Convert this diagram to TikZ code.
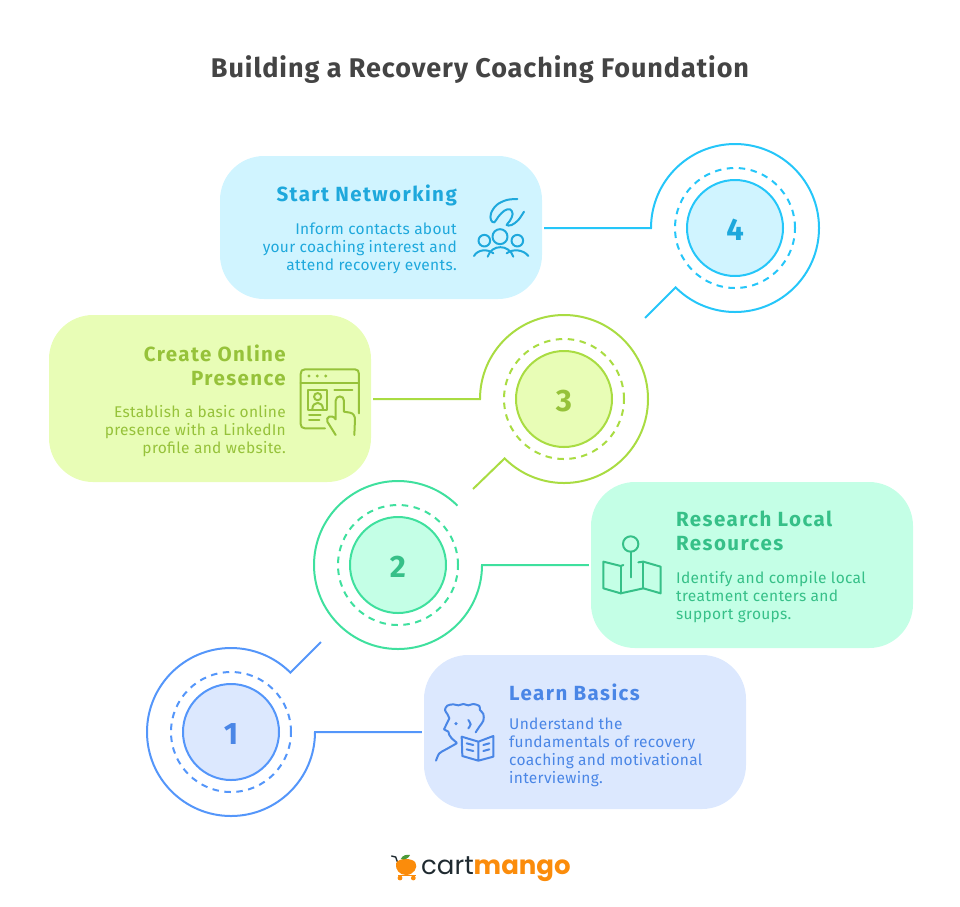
\documentclass[tikz,border=0pt]{standalone}
\usepackage{fontspec}
\usepackage{xcolor}
\setmainfont{Fira Sans}
\newfontfamily\logofont{Poppins}
\newfontfamily\titlefont[LetterSpace=3.5]{Fira Sans}
\newfontfamily\headfont[LetterSpace=7]{Fira Sans}
\newfontfamily\bodyfont[LetterSpace=2]{Fira Sans}
\usetikzlibrary{positioning}
\definecolor{titlegray}{HTML}{444444}
\definecolor{learnfill}{HTML}{DCE8FE}
\definecolor{learnline}{HTML}{5496FA}
\definecolor{learntext}{HTML}{4A86E6}
\definecolor{researchfill}{HTML}{C4FFE6}
\definecolor{researchline}{HTML}{3FE09E}
\definecolor{researchtext}{HTML}{36C088}
\definecolor{createfill}{HTML}{E8FDB6}
\definecolor{createline}{HTML}{A9DC42}
\definecolor{createtext}{HTML}{96C23A}
\definecolor{startfill}{HTML}{D0F4FF}
\definecolor{startline}{HTML}{25C6F9}
\definecolor{starttext}{HTML}{1EA8DC}
\definecolor{mangoorange}{HTML}{FB8C0B}
\definecolor{cartdark}{HTML}{1F2A30}
\definecolor{leafgreen}{HTML}{4C9A3A}

\begin{document}
\begin{tikzpicture}[
    x=1pt, y=-1pt,
    box/.style={rectangle, rounded corners=44pt, fill=#1, minimum width=322pt},
    hub/.style={circle, draw=#1, line width=2pt, minimum size=96pt, inner sep=0pt},
    ring/.style={circle, draw=#1, line width=2pt, dash pattern=on 6.5pt off 5.5pt, minimum size=120pt, inner sep=0pt},
    link/.style={draw=#1, line width=2pt, line join=miter},
    numeral/.style={font=\fontsize{31}{31}\selectfont\bfseries, text=#1},
    heading/.style={font=\fontsize{20.5}{24}\headfont\bfseries, text=#1, inner sep=0pt},
    body/.style={font=\fontsize{15.5}{18}\bodyfont, text=#1, inner sep=0pt},
    icon/.style={draw=#1, line width=2pt, line cap=round, line join=round}
]
\useasboundingbox (0,0) rectangle (960,906);

\node[font=\fontsize{27}{30}\titlefont\bfseries, text=titlegray] (title) at (480,70) {Building a Recovery Coaching Foundation};

% Learn Basics
\node[box=learnfill, minimum height=154pt] (learn) at (585,732) {};
\node[ring=learnline] (ringA) at (231,732) {};
\node[hub=learnline, fill=learnfill] (hubA) at (231,732) {};
\node[numeral=learntext] (numA) at (231,734) {1};
\coordinate (spurA) at ([xshift=84pt]hubA.center);
\coordinate (tailA) at (321,642);
\draw[link=learnline] ([xshift=-2pt]learn.west) -- (spurA) arc[start angle=0, end angle=-315, radius=84pt] -- (tailA);
\node[heading=learntext, anchor=west, align=left] (learnhead) at (509,692) {Learn Basics};
\node[body=learntext, anchor=west, align=left] (learnbody) at (509,752) {Understand the\\fundamentals of recovery\\coaching and motivational\\interviewing.};
\begin{scope}[shift={(430,690)}, x=0.3333pt, y=-0.3333pt]
  \draw[icon=learntext] plot[smooth, tension=0.6] coordinates {(137,127) (148,110) (160,92) (160,72) (150,60) (148,48) (130,42) (115,46) (100,42) (85,46) (70,43) (52,47) (45,60) (52,72) (58,85)};
  \draw[icon=learntext] (58,85) -- (42,118) -- (55,125) -- (58,135) -- (65,145) -- (80,158);
  \draw[icon=learntext] plot[smooth] coordinates {(80,160) (50,177) (28,190) (18,212)};
  \fill[learntext] (78,101) circle[radius=1.8pt];
  \draw[icon=learntext] plot[smooth] coordinates {(115,90) (122,103) (115,115)};
  \draw[icon=learntext] (95,140) -- (145,155) -- (190,138) -- (190,200) -- (145,212) -- (97,198) -- cycle (145,155) -- (145,212);
  \draw[icon=learntext] (110,160) -- (130,165) (110,178) -- (130,183) (160,165) -- (178,160) (160,183) -- (178,178);
\end{scope}

% Research Local Resources
\node[box=researchfill, minimum height=166pt] (research) at (752,565) {};
\node[ring=researchline] (ringB) at (398,565) {};
\node[hub=researchline, fill=researchfill] (hubB) at (398,565) {};
\node[numeral=researchtext] (numB) at (398,567) {2};
\coordinate (spurB) at ([xshift=84pt]hubB.center);
\draw[link=researchline] ([xshift=-2pt]research.west) -- (spurB) arc[start angle=0, end angle=-315, radius=84pt];
\node[heading=researchtext, anchor=west, align=left] (researchhead) at (676,531) {Research Local\\Resources};
\node[body=researchtext, anchor=west, align=left] (researchbody) at (676,597) {Identify and compile local\\treatment centers and\\support groups.};
\begin{scope}[shift={(590,520)}, x=0.3333pt, y=-0.3333pt]
  \draw[icon=researchtext] (122,72) circle[radius=7.7pt];
  \draw[icon=researchtext] (122,95) -- (122,172);
  \draw[icon=researchtext] (100,135) -- (92,138) -- (40,125) -- (40,205) -- (92,220) -- (160,205) -- (212,220) -- (212,140) -- (160,125) -- (145,127);
  \draw[icon=researchtext] (92,138) -- (92,220) (160,125) -- (160,205);
\end{scope}

% Create Online Presence
\node[box=createfill, minimum height=167pt] (create) at (210,398.5) {};
\node[ring=createline] (ringC) at (564,399) {};
\node[hub=createline, fill=createfill] (hubC) at (564,399) {};
\node[numeral=createtext] (numC) at (564,401) {3};
\coordinate (spurC) at ([xshift=-84pt]hubC.center);
\coordinate (tailC) at (473,489);
\draw[link=createline] ([xshift=2pt]create.east |- spurC) -- (spurC) arc[start angle=180, end angle=-135, radius=84pt] -- (tailC);
\node[heading=createtext, anchor=east, align=right] (createhead) at (286,365) {Create Online\\Presence};
\node[body=createtext, anchor=east, align=right] (createbody) at (286,431) {Establish a basic online\\presence with a LinkedIn\\profile and website.};
\begin{scope}[shift={(290,360)}, x=0.3333pt, y=-0.3333pt]
  \draw[icon=createtext] (105,205) -- (45,205) .. controls (36,205) and (32,200) .. (32,192) -- (32,42) .. controls (32,33) and (36,28) .. (45,28) -- (195,28) .. controls (203,28) and (207,33) .. (207,42) -- (207,160);
  \draw[icon=createtext] (32,70) -- (207,70);
  \fill[createtext] (57,48) circle[radius=1.6pt] (82,48) circle[radius=1.6pt] (107,48) circle[radius=1.6pt];
  \draw[icon=createtext] (55,90) rectangle (110,150);
  \draw[icon=createtext] (83,110) circle[radius=3.6pt];
  \draw[icon=createtext] (67,148) .. controls (67,122) and (99,122) .. (99,148);
  \draw[icon=createtext] (133,90) -- (187,90) (57,165) -- (92,165) (57,180) -- (88,180);
  \draw[icon=createtext] (137,225) -- (112,185) .. controls (106,172) and (125,160) .. (137,178) -- (137,122) .. controls (137,105) and (162,105) .. (162,122) -- (162,155) -- (180,158) .. controls (190,160) and (195,168) .. (195,178) -- (193,225);
\end{scope}

% Start Networking
\node[box=startfill, minimum height=143pt] (start) at (381,227.5) {};
\node[ring=startline] (ringD) at (735,228) {};
\node[hub=startline, fill=startfill] (hubD) at (735,228) {};
\node[numeral=starttext] (numD) at (735,230) {4};
\coordinate (spurD) at ([xshift=-84pt]hubD.center);
\coordinate (tailD) at (645,318);
\draw[link=startline] ([xshift=2pt]start.east |- spurD) -- (spurD) arc[start angle=180, end angle=-135, radius=84pt] -- (tailD);
\node[heading=starttext, anchor=east, align=right] (starthead) at (457,195.5) {Start Networking};
\node[body=starttext, anchor=east, align=right] (startbody) at (457,248) {Inform contacts about\\your coaching interest and\\attend recovery events.};
\begin{scope}[shift={(465,190)}, x=0.3333pt, y=-0.3333pt]
  \draw[icon=starttext] plot[smooth, tension=0.6] coordinates {(157,27) (125,30) (95,45) (78,70) (78,90) (88,97) (100,80) (118,62) (135,58) (143,72) (135,92) (125,105) (140,105) (160,90) (177,65)};
  \draw[icon=starttext] (105,140) circle[radius=7.5pt] (58,152) circle[radius=5.8pt] (157,152) circle[radius=5.8pt];
  \draw[icon=starttext] (27,198) .. controls (38,178) and (68,176) .. (85,190);
  \draw[icon=starttext] (68,200) .. controls (80,162) and (132,162) .. (145,200);
  \draw[icon=starttext] (125,190) .. controls (142,176) and (175,178) .. (190,198);
\end{scope}

% Logo
\begin{scope}[shift={(380,845)}, x=0.3333pt, y=-0.3333pt]
  \draw[cartdark, line width=1.4pt, line cap=round] (35,33) -- (47,36) -- (52,50);
  \fill[mangoorange] (48,55) .. controls (55,38) and (95,38) .. (106,52) .. controls (116,68) and (100,90) .. (78,90) .. controls (60,90) and (45,75) .. (48,55) -- cycle;
  \fill[leafgreen] (62,42) .. controls (68,30) and (80,28) .. (90,30) .. controls (86,40) and (74,46) .. (62,42) -- cycle;
  \draw[mangoorange, line width=1.4pt] (55,92) -- (107,92);
  \fill[mangoorange] (60,99) circle[radius=2.4pt] (100,99) circle[radius=2.4pt];
\end{scope}
\node[font=\fontsize{26}{30}\logofont, text=cartdark, anchor=west, inner sep=0pt] (brand) at (421,869) {cart\textcolor{mangoorange}{\bfseries mango}};

\end{tikzpicture}
\end{document}
